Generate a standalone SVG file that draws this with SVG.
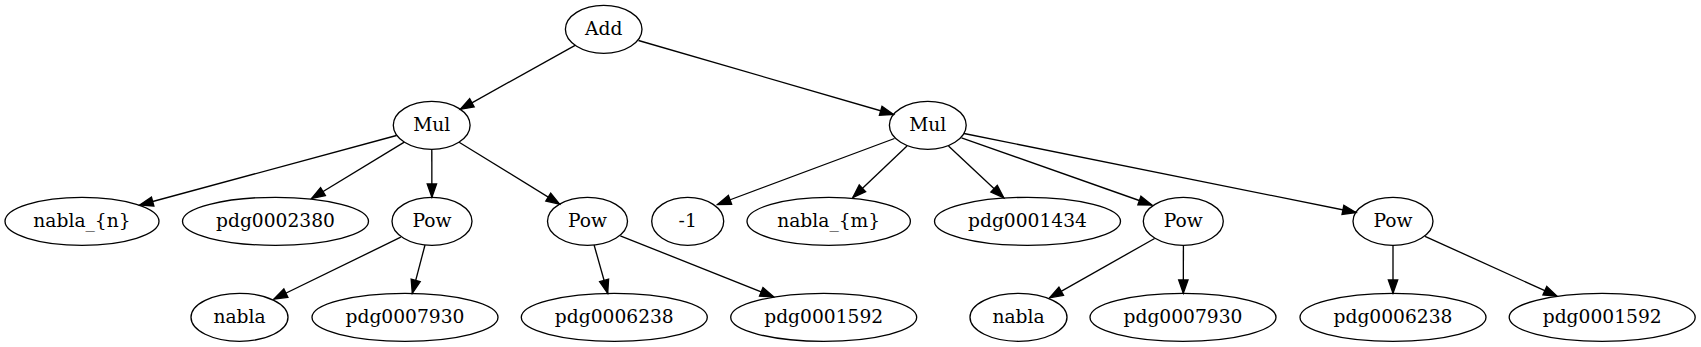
<svg xmlns="http://www.w3.org/2000/svg" width="1701" height="347" viewBox="0 0 1701 347">
<style>
.n ellipse{fill:none;stroke:#000;stroke-width:1.33}
.n text{font-family:"DejaVu Serif","Liberation Serif",serif;font-size:18.67px;text-anchor:middle;fill:#000}
#edges line{stroke:#000;stroke-width:1.33;fill:none;marker-end:url(#arr)}
</style>
<defs>
<marker id="arr" markerUnits="userSpaceOnUse" markerWidth="16" markerHeight="12" viewBox="-1 -1 16 12" refX="13.33" refY="4.67" orient="auto" overflow="visible">
<path d="M0,0 L13.33,4.67 L0,9.33 Z" fill="#000" stroke="#000" stroke-width="1.33"/>
</marker>
</defs>
<rect width="1701" height="347" fill="#fff"/>
<g id="edges">
<line x1="575.1" y1="45.3" x2="460.3" y2="109.3"/>
<line x1="638.5" y1="40.5" x2="893.5" y2="114.5"/>
<line x1="396.5" y1="135.5" x2="139.8" y2="205"/>
<line x1="404.3" y1="142.1" x2="311.6" y2="198.5"/>
<line x1="431.8" y1="149.3" x2="431.9" y2="197.3"/>
<line x1="459.1" y1="142.2" x2="559.6" y2="204.1"/>
<line x1="894.5" y1="138.5" x2="717.5" y2="204.5"/>
<line x1="907" y1="146" x2="852.8" y2="197.5"/>
<line x1="948.5" y1="146" x2="1003.8" y2="197.8"/>
<line x1="961.5" y1="137.8" x2="1152" y2="205"/>
<line x1="964" y1="133.5" x2="1356" y2="212.5"/>
<line x1="400.8" y1="237.2" x2="273.9" y2="299"/>
<line x1="425" y1="245" x2="412.3" y2="293.3"/>
<line x1="594.1" y1="245" x2="607.7" y2="293.3"/>
<line x1="620.3" y1="235.8" x2="773.6" y2="296.8"/>
<line x1="1154.6" y1="238.5" x2="1049.6" y2="297.8"/>
<line x1="1183.4" y1="245.3" x2="1183.3" y2="293.3"/>
<line x1="1393" y1="245.3" x2="1393" y2="293.3"/>
<line x1="1425" y1="236.3" x2="1557" y2="296.2"/>
</g>
<g id="add" class="n"><ellipse cx="603.7" cy="29.3" rx="38.3" ry="24"/><text x="603.7" y="34.9">Add</text></g>
<g id="mul1" class="n"><ellipse cx="431.7" cy="125.3" rx="38.4" ry="24"/><text x="431.7" y="130.9">Mul</text></g>
<g id="mul2" class="n"><ellipse cx="927.8" cy="125.3" rx="38.4" ry="24"/><text x="927.8" y="130.9">Mul</text></g>
<g id="nabla_n" class="n"><ellipse cx="82" cy="221.3" rx="77" ry="24"/><text x="82" y="226.9">nabla_{n}</text></g>
<g id="pdg0002380" class="n"><ellipse cx="275.5" cy="221.3" rx="93" ry="24"/><text x="275.5" y="226.9">pdg0002380</text></g>
<g id="pow1" class="n"><ellipse cx="432" cy="221.3" rx="40" ry="24"/><text x="432" y="226.9">Pow</text></g>
<g id="pow2" class="n"><ellipse cx="587.5" cy="221.3" rx="40" ry="24"/><text x="587.5" y="226.9">Pow</text></g>
<g id="neg1" class="n"><ellipse cx="687.7" cy="221.3" rx="36" ry="24"/><text x="687.7" y="226.9">-1</text></g>
<g id="nabla_m" class="n"><ellipse cx="828.7" cy="221.3" rx="81.7" ry="24"/><text x="828.7" y="226.9">nabla_{m}</text></g>
<g id="pdg0001434" class="n"><ellipse cx="1027.5" cy="221.3" rx="93" ry="24"/><text x="1027.5" y="226.9">pdg0001434</text></g>
<g id="pow3" class="n"><ellipse cx="1183.3" cy="221.3" rx="40" ry="24"/><text x="1183.3" y="226.9">Pow</text></g>
<g id="pow4" class="n"><ellipse cx="1393" cy="221.3" rx="40" ry="24"/><text x="1393" y="226.9">Pow</text></g>
<g id="nabla1" class="n"><ellipse cx="239.5" cy="317.3" rx="48.5" ry="24"/><text x="239.5" y="322.9">nabla</text></g>
<g id="pdg0007930a" class="n"><ellipse cx="405" cy="317.3" rx="93" ry="24"/><text x="405" y="322.9">pdg0007930</text></g>
<g id="pdg0006238a" class="n"><ellipse cx="614.3" cy="317.3" rx="93" ry="24"/><text x="614.3" y="322.9">pdg0006238</text></g>
<g id="pdg0001592a" class="n"><ellipse cx="823.7" cy="317.3" rx="93" ry="24"/><text x="823.7" y="322.9">pdg0001592</text></g>
<g id="nabla2" class="n"><ellipse cx="1018.5" cy="317.3" rx="48.5" ry="24"/><text x="1018.5" y="322.9">nabla</text></g>
<g id="pdg0007930b" class="n"><ellipse cx="1183" cy="317.3" rx="93" ry="24"/><text x="1183" y="322.9">pdg0007930</text></g>
<g id="pdg0006238b" class="n"><ellipse cx="1393" cy="317.3" rx="93" ry="24"/><text x="1393" y="322.9">pdg0006238</text></g>
<g id="pdg0001592b" class="n"><ellipse cx="1602.2" cy="317.3" rx="93" ry="24"/><text x="1602.2" y="322.9">pdg0001592</text></g>
</svg>
